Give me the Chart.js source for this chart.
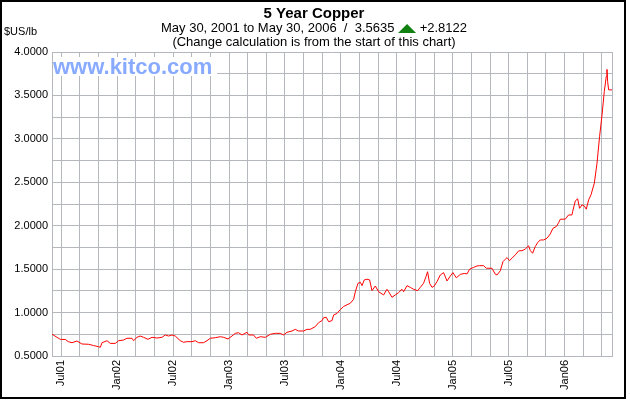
<!DOCTYPE html>
<html>
<head>
<meta charset="utf-8">
<script src="https://cdn.jsdelivr.net/npm/chart.js@4.4.0/dist/chart.umd.min.js"></script>
<style>
  body { margin: 0; background: #fff; }
  canvas { display: block; }
</style>
</head>
<body>
<canvas id="copper" width="630" height="400"></canvas>
<script>
// dates as decimal years, prices in $US/lb
const dates = [
  2001.417, 2001.462, 2001.491, 2001.536, 2001.563, 2001.596, 2001.640, 2001.685, 2001.744, 2001.789,
  2001.834, 2001.849, 2001.864, 2001.909, 2001.938, 2001.983, 2002.012, 2002.057, 2002.087, 2002.132,
  2002.146, 2002.177, 2002.206, 2002.236, 2002.275, 2002.311, 2002.356, 2002.400, 2002.430, 2002.459,
  2002.490, 2002.519, 2002.564, 2002.594, 2002.624, 2002.669, 2002.698, 2002.728, 2002.772, 2002.803,
  2002.832, 2002.877, 2002.922, 2002.951, 2002.991, 2003.026, 2003.056, 2003.085, 2003.116, 2003.160,
  2003.175, 2003.219, 2003.244, 2003.279, 2003.324, 2003.369, 2003.413, 2003.458, 2003.488, 2003.518,
  2003.563, 2003.592, 2003.622, 2003.667, 2003.697, 2003.726, 2003.771, 2003.801, 2003.831, 2003.845,
  2003.869, 2003.890, 2003.920, 2003.935, 2003.965, 2003.995, 2004.024, 2004.055, 2004.084, 2004.114,
  2004.129, 2004.153, 2004.174, 2004.189, 2004.209, 2004.233, 2004.257, 2004.278, 2004.308, 2004.337,
  2004.382, 2004.412, 2004.427, 2004.457, 2004.486, 2004.516, 2004.546, 2004.561, 2004.591, 2004.621,
  2004.650, 2004.686, 2004.710, 2004.739, 2004.761, 2004.775, 2004.793, 2004.815, 2004.835, 2004.859,
  2004.889, 2004.918, 2004.949, 2004.978, 2005.002, 2005.032, 2005.068, 2005.103, 2005.128, 2005.151,
  2005.187, 2005.217, 2005.240, 2005.276, 2005.300, 2005.351, 2005.381, 2005.396, 2005.425, 2005.449,
  2005.470, 2005.485, 2005.508, 2005.530, 2005.559, 2005.589, 2005.619, 2005.649, 2005.678, 2005.694,
  2005.714, 2005.738, 2005.759, 2005.783, 2005.812, 2005.843, 2005.872, 2005.896, 2005.926, 2005.947,
  2005.962, 2006.006, 2006.036, 2006.066, 2006.072, 2006.096, 2006.117, 2006.134, 2006.156, 2006.176,
  2006.194, 2006.215, 2006.236, 2006.266, 2006.290, 2006.313, 2006.335, 2006.355, 2006.373, 2006.379,
  2006.385, 2006.394, 2006.424
];
const prices = [
  0.7513, 0.715, 0.692, 0.690, 0.665, 0.653, 0.673, 0.638, 0.635, 0.620,
  0.607, 0.600, 0.653, 0.676, 0.645, 0.645, 0.676, 0.684, 0.704, 0.704,
  0.676, 0.715, 0.730, 0.715, 0.692, 0.715, 0.707, 0.715, 0.742, 0.730,
  0.742, 0.730, 0.676, 0.658, 0.665, 0.665, 0.676, 0.653, 0.653, 0.676,
  0.704, 0.711, 0.722, 0.715, 0.696, 0.730, 0.761, 0.768, 0.742, 0.773,
  0.742, 0.742, 0.704, 0.722, 0.715, 0.750, 0.761, 0.761, 0.742, 0.773,
  0.788, 0.807, 0.788, 0.788, 0.807, 0.807, 0.838, 0.884, 0.907, 0.940,
  0.946, 0.895, 0.907, 0.972, 0.990, 1.035, 1.070, 1.090, 1.107, 1.153,
  1.240, 1.337, 1.349, 1.310, 1.376, 1.384, 1.376, 1.252, 1.306, 1.240,
  1.203, 1.268, 1.240, 1.176, 1.203, 1.230, 1.268, 1.240, 1.310, 1.290,
  1.268, 1.252, 1.290, 1.337, 1.414, 1.470, 1.337, 1.290, 1.306, 1.356,
  1.433, 1.460, 1.364, 1.420, 1.460, 1.400, 1.440, 1.450, 1.445, 1.500,
  1.520, 1.537, 1.540, 1.540, 1.510, 1.510, 1.440, 1.433, 1.480, 1.586,
  1.614, 1.633, 1.598, 1.626, 1.664, 1.710, 1.713, 1.730, 1.770, 1.713,
  1.683, 1.760, 1.805, 1.836, 1.836, 1.856, 1.905, 1.970, 1.990, 2.035,
  2.075, 2.075, 2.124, 2.124, 2.162, 2.286, 2.310, 2.200, 2.240, 2.228,
  2.190, 2.297, 2.355, 2.490, 2.720, 3.027, 3.277, 3.545, 3.720, 3.800,
  3.660, 3.564, 3.5635
];
const monthLabels = ['Jan', 'Jul'];
const startPrice = 0.7513;
const lastPrice = 3.5635;

const xMin = 2001.417;
const xMax = 2006.424;

const header = {
  id: 'header',
  afterDraw(chart) {
    const ctx = chart.ctx;
    const area = chart.chartArea;
    ctx.save();
    // watermark with white box
    ctx.fillStyle = '#fff';
    ctx.fillRect(area.left + 1, 57, 164, 19);
    ctx.fillStyle = '#88aaff';
    ctx.font = 'bold 22px "Liberation Sans", Arial, sans-serif';
    ctx.textAlign = 'left';
    ctx.textBaseline = 'alphabetic';
    ctx.fillText('www.kitco.com', 53, 74);

    ctx.fillStyle = '#000';
    ctx.font = '11px "Liberation Sans", Arial, sans-serif';
    ctx.fillText('$US/lb', 4, 35);

    const cx = 314;
    ctx.textAlign = 'center';
    ctx.font = 'bold 15px "Liberation Sans", Arial, sans-serif';
    ctx.fillText('5 Year Copper', cx, 18);

    ctx.font = '13px "Liberation Sans", Arial, sans-serif';
    const left = 'May 30, 2001 to May 30, 2006  /  ' + lastPrice.toFixed(4) + ' ';
    const right = ' +' + (lastPrice - startPrice).toFixed(4);
    const triW = 18;
    const wl = ctx.measureText(left).width;
    const wr = ctx.measureText(right).width;
    let x = cx - (wl + triW + wr) / 2;
    ctx.textAlign = 'left';
    ctx.fillText(left, x, 32);
    x += wl;
    ctx.fillStyle = '#108010';
    ctx.beginPath();
    ctx.moveTo(x, 33);
    ctx.lineTo(x + triW, 33);
    ctx.lineTo(x + triW / 2, 24);
    ctx.closePath();
    ctx.fill();
    ctx.fillStyle = '#000';
    ctx.fillText(right, x + triW, 32);

    ctx.textAlign = 'center';
    ctx.fillText('(Change calculation is from the start of this chart)', cx, 46);

    // outer frame
    ctx.strokeStyle = '#000';
    ctx.lineWidth = 2;
    ctx.strokeRect(1, 1, 624, 397);
    ctx.restore();
  }
};

new Chart(document.getElementById('copper'), {
  type: 'line',
  data: {
    datasets: [{
      data: dates.map((d, i) => ({ x: d, y: prices[i] })),
      borderColor: '#ff0000',
      borderWidth: 1,
      pointRadius: 0,
      tension: 0
    }]
  },
  options: {
    responsive: false,
    animation: false,
    layout: { padding: { left: 0, top: 52, right: 18, bottom: 0 } },
    plugins: { legend: { display: false }, tooltip: { enabled: false } },
    scales: {
      x: {
        type: 'linear',
        min: xMin,
        max: xMax,
        afterFit: s => { s.height = 44; },
        afterBuildTicks: s => {
          const t = [{ value: xMin }];
          for (let k = 6; k <= 64; k += 2) t.push({ value: 2001 + k / 12 });
          t.push({ value: xMax });
          s.ticks = t;
        },
        grid: { color: '#b4b8bc', drawTicks: false },
        border: { color: '#b4b8bc' },
        ticks: {
          autoSkip: false,
          minRotation: 90,
          maxRotation: 90,
          padding: 4,
          color: '#000',
          font: { family: '"Liberation Sans", Arial, sans-serif', size: 11 },
          callback: v => {
            if (v === xMin || v === xMax) return '';
            const k = Math.round((v - 2001) * 12);
            if (k % 6 !== 0) return '';
            const yr = 2001 + Math.floor(k / 12);
            return monthLabels[(k % 12) / 6] + String(yr).slice(2);
          }
        }
      },
      y: {
        min: 0.5,
        max: 4.0,
        afterFit: s => { s.width = 52; },
        grid: { color: '#b4b8bc', drawTicks: false },
        border: { color: '#b4b8bc' },
        ticks: {
          stepSize: 0.25,
          padding: 4,
          color: '#000',
          font: { family: '"Liberation Sans", Arial, sans-serif', size: 11 },
          callback: v => (Math.abs(v * 2 - Math.round(v * 2)) < 1e-6 ? v.toFixed(4) : '')
        }
      }
    }
  },
  plugins: [header]
});
</script>
</body>
</html>
